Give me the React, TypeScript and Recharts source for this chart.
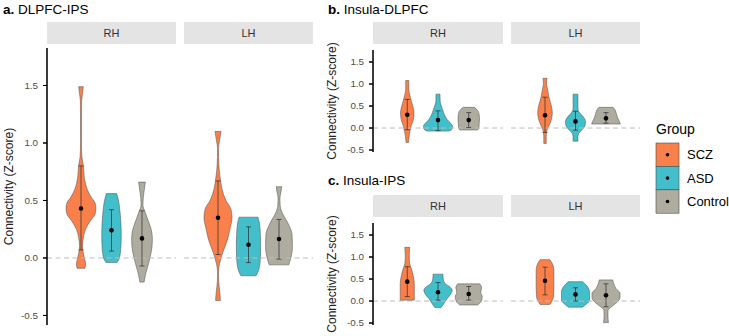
import React from 'react';
import { ComposedChart, Area, Scatter, ErrorBar, XAxis, YAxis, ReferenceLine } from 'recharts';

const groups = ['SCZ', 'ASD', 'Control'];
const hemispheres = ['RH', 'LH'];
const groupColors = ['#f9804b', '#42bfca', '#aeab9f'];
const yTicks = [-0.5, 0, 0.5, 1, 1.5];

// violin outlines: [connectivity, half width in group units]
const dlpfcIpsRhScz = [[-0.09, 0.13], [-0.05, 0.15], [0.0, 0.11], [0.05, 0.07], [0.1, 0.05], [0.18, 0.08], [0.25, 0.15], [0.32, 0.3], [0.38, 0.46], [0.43, 0.49], [0.48, 0.46], [0.53, 0.33], [0.6, 0.2], [0.7, 0.11], [0.8, 0.08], [0.88, 0.03], [1.0, 0.015], [1.2, 0.015], [1.36, 0.02], [1.43, 0.05], [1.49, 0.075]];
const dlpfcIpsRhAsd = [[-0.04, 0.18], [0.0, 0.26], [0.1, 0.31], [0.2, 0.32], [0.3, 0.31], [0.4, 0.28], [0.5, 0.23], [0.56, 0.17]];
const dlpfcIpsRhCtrl = [[-0.21, 0.07], [-0.15, 0.11], [-0.1, 0.16], [0.0, 0.26], [0.1, 0.33], [0.17, 0.34], [0.25, 0.3], [0.32, 0.21], [0.4, 0.1], [0.46, 0.03], [0.52, 0.04], [0.6, 0.08], [0.66, 0.11]];
const dlpfcIpsLhScz = [[-0.37, 0.08], [-0.3, 0.06], [-0.2, 0.02], [-0.12, 0.015], [-0.05, 0.05], [0.0, 0.1], [0.05, 0.16], [0.15, 0.3], [0.25, 0.39], [0.35, 0.46], [0.42, 0.43], [0.5, 0.26], [0.6, 0.13], [0.7, 0.07], [0.8, 0.03], [0.95, 0.015], [1.02, 0.05], [1.1, 0.1]];
const dlpfcIpsLhAsd = [[-0.155, 0.25], [-0.1, 0.34], [0.0, 0.39], [0.1, 0.4], [0.2, 0.39], [0.3, 0.36], [0.355, 0.31]];
const dlpfcIpsLhCtrl = [[-0.06, 0.32], [0.0, 0.39], [0.1, 0.44], [0.2, 0.43], [0.3, 0.3], [0.38, 0.13], [0.45, 0.04], [0.52, 0.03], [0.58, 0.07], [0.62, 0.09]];

const insDlpfcRhScz = [[-0.33, 0.04], [-0.25, 0.05], [-0.1, 0.08], [0.05, 0.13], [0.2, 0.2], [0.35, 0.22], [0.5, 0.18], [0.7, 0.1], [0.9, 0.05], [1.08, 0.05]];
const insDlpfcRhAsd = [[-0.07, 0.36], [-0.02, 0.46], [0.05, 0.47], [0.1, 0.42], [0.2, 0.29], [0.3, 0.21], [0.4, 0.16], [0.5, 0.11], [0.6, 0.07], [0.77, 0.065]];
const insDlpfcRhCtrl = [[-0.045, 0.29], [0.0, 0.33], [0.1, 0.34], [0.2, 0.35], [0.3, 0.34], [0.4, 0.29], [0.47, 0.18]];
const insDlpfcLhScz = [[-0.35, 0.04], [-0.2, 0.04], [-0.05, 0.065], [0.05, 0.13], [0.2, 0.21], [0.35, 0.24], [0.5, 0.21], [0.7, 0.13], [0.9, 0.08], [1.0, 0.05], [1.13, 0.065]];
const insDlpfcLhAsd = [[-0.3, 0.08], [-0.2, 0.08], [-0.12, 0.11], [-0.05, 0.2], [0.05, 0.31], [0.15, 0.33], [0.25, 0.26], [0.35, 0.13], [0.45, 0.08], [0.6, 0.08], [0.77, 0.08]];
const insDlpfcLhCtrl = [[0.09, 0.47], [0.15, 0.44], [0.25, 0.37], [0.35, 0.33], [0.42, 0.29], [0.47, 0.23]];

const insIpsRhScz = [[0.02, 0.23], [0.1, 0.23], [0.25, 0.23], [0.4, 0.23], [0.55, 0.2], [0.7, 0.15], [0.85, 0.08], [1.0, 0.065], [1.12, 0.07], [1.22, 0.08]];
const insIpsRhAsd = [[-0.15, 0.1], [-0.05, 0.2], [0.05, 0.29], [0.15, 0.41], [0.25, 0.46], [0.32, 0.39], [0.4, 0.23], [0.5, 0.17], [0.61, 0.16]];
const insIpsRhCtrl = [[-0.09, 0.29], [0.0, 0.41], [0.1, 0.44], [0.2, 0.39], [0.3, 0.42], [0.39, 0.36]];
const insIpsLhScz = [[-0.08, 0.16], [0.0, 0.23], [0.1, 0.28], [0.3, 0.29], [0.5, 0.29], [0.7, 0.29], [0.85, 0.24], [0.94, 0.16]];
const insIpsLhAsd = [[-0.14, 0.23], [-0.07, 0.36], [0.02, 0.46], [0.2, 0.46], [0.33, 0.39], [0.44, 0.24]];
const insIpsLhCtrl = [[-0.49, 0.08], [-0.35, 0.065], [-0.22, 0.065], [-0.12, 0.2], [-0.03, 0.36], [0.08, 0.46], [0.18, 0.46], [0.28, 0.33], [0.38, 0.26], [0.48, 0.22]];

// mean and error bar ends, order SCZ, ASD, Control
const dlpfcIpsRhMean = [0.43, 0.24, 0.17];
const dlpfcIpsRhLow = [0.07, 0.06, -0.07];
const dlpfcIpsRhHigh = [0.8, 0.42, 0.41];
const dlpfcIpsLhMean = [0.35, 0.115, 0.165];
const dlpfcIpsLhLow = [0.03, -0.04, -0.01];
const dlpfcIpsLhHigh = [0.67, 0.27, 0.335];

const insDlpfcRhMean = [0.3, 0.18, 0.18];
const insDlpfcRhLow = [-0.04, -0.06, 0.01];
const insDlpfcRhHigh = [0.65, 0.39, 0.35];
const insDlpfcLhMean = [0.29, 0.15, 0.22];
const insDlpfcLhLow = [-0.1, -0.05, 0.11];
const insDlpfcLhHigh = [0.7, 0.38, 0.35];

const insIpsRhMean = [0.44, 0.2, 0.16];
const insIpsRhLow = [0.1, 0.02, 0.02];
const insIpsRhHigh = [0.78, 0.42, 0.33];
const insIpsLhMean = [0.46, 0.15, 0.13];
const insIpsLhLow = [0.14, 0.0, -0.13];
const insIpsLhHigh = [0.77, 0.3, 0.39];

const font = '"Liberation Sans", Arial, Helvetica, sans-serif';
const outline = '#4a4a4a';
const X_DOMAIN = [-0.115, 4.115];

type Facet = { outlines: number[][][]; mean: number[]; low: number[]; high: number[] };

const panels = [
  {
    letter: 'a.', title: 'DLPFC-IPS', titleX: 3, labelX: 13, titleY: 14, stripTop: 22, plotTop: 48, plotH: 277, domain: [-0.583, 1.826],
    left: 47, widths: [129, 129], gap: 8,
    facets: [
      { outlines: [dlpfcIpsRhScz, dlpfcIpsRhAsd, dlpfcIpsRhCtrl], mean: dlpfcIpsRhMean, low: dlpfcIpsRhLow, high: dlpfcIpsRhHigh },
      { outlines: [dlpfcIpsLhScz, dlpfcIpsLhAsd, dlpfcIpsLhCtrl], mean: dlpfcIpsLhMean, low: dlpfcIpsLhLow, high: dlpfcIpsLhHigh },
    ] as Facet[],
  },
  {
    letter: 'b.', title: 'Insula-DLPFC', titleX: 328, labelX: 336, titleY: 14, stripTop: 22, plotTop: 50, plotH: 102, domain: [-0.545, 1.773],
    left: 373, widths: [130, 129], gap: 8,
    facets: [
      { outlines: [insDlpfcRhScz, insDlpfcRhAsd, insDlpfcRhCtrl], mean: insDlpfcRhMean, low: insDlpfcRhLow, high: insDlpfcRhHigh },
      { outlines: [insDlpfcLhScz, insDlpfcLhAsd, insDlpfcLhCtrl], mean: insDlpfcLhMean, low: insDlpfcLhLow, high: insDlpfcLhHigh },
    ] as Facet[],
  },
  {
    letter: 'c.', title: 'Insula-IPS', titleX: 328, labelX: 336, titleY: 185, stripTop: 195, plotTop: 223, plotH: 102, domain: [-0.545, 1.773],
    left: 373, widths: [130, 129], gap: 8,
    facets: [
      { outlines: [insIpsRhScz, insIpsRhAsd, insIpsRhCtrl], mean: insIpsRhMean, low: insIpsRhLow, high: insIpsRhHigh },
      { outlines: [insIpsLhScz, insIpsLhAsd, insIpsLhCtrl], mean: insIpsLhMean, low: insIpsLhLow, high: insIpsLhHigh },
    ] as Facet[],
  },
];

const AXIS_W = 47;
const STRIP_H = 22;
const BOTTOM = 6;

// tick mark and label drawn together at the position the axis hands over
const YTick = (props: any) => {
  const { x, y, payload } = props;
  return (
    <g>
      <line x1={x + 4} x2={x + 8} y1={y} y2={y} stroke="#000" strokeWidth={1} />
      <text x={x - 1} y={y} dy="0.35em" textAnchor="end" fontSize={9.8} fill="#4d4d4d" fontFamily={font}>
        {Number(payload.value).toFixed(1)}
      </text>
    </g>
  );
};

// one facet: violins + mean/error bars, y axis hidden
const FacetChart = ({ facet, width, height, top, domain }: {
  facet: Facet; width: number; height: number; top: number; domain: number[];
}) => {
  const points = facet.mean.map((m, i) => ({ x: i + 1, y: m, err: [m - facet.low[i], facet.high[i] - m] }));
  return (
    <ComposedChart layout="vertical" width={width} height={height} margin={{ top, right: 0, bottom: BOTTOM, left: 0 }}>
      <XAxis type="number" dataKey="x" domain={X_DOMAIN} allowDataOverflow hide />
      <YAxis type="number" dataKey="y" domain={domain} allowDataOverflow reversed hide width={0} />
      <ReferenceLine y={0} stroke="#bdbdbd" strokeWidth={1} strokeDasharray="5 3.5" />
      {facet.outlines.map((o, i) => (
        <Area
          key={groups[i]}
          data={o.map(([y, w]) => ({ y, span: [i + 1 - w, i + 1 + w] }))}
          dataKey="span"
          type="monotone"
          fill={groupColors[i]}
          fillOpacity={1}
          stroke={outline}
          strokeWidth={0.5}
          dot={false}
          activeDot={false}
          isAnimationActive={false}
        />
      ))}
      {facet.outlines.map((o, i) =>
        [o[0], o[o.length - 1]].map(([y, w], k) => (
          <ReferenceLine
            key={`${groups[i]}-${k}`}
            segment={[{ x: i + 1 - w, y }, { x: i + 1 + w, y }]}
            stroke={outline}
            strokeWidth={0.5}
          />
        ))
      )}
      <Scatter
        data={points}
        isAnimationActive={false}
        shape={(p: any) => <circle cx={p.cx} cy={p.cy} r={2.3} fill="#000" />}
      >
        <ErrorBar dataKey="err" direction="y" width={2.5} stroke="#2b2b2b" strokeWidth={0.7} isAnimationActive={false} />
      </Scatter>
    </ComposedChart>
  );
};

// the shared y axis of a panel, drawn by its own chart laid over the left facet
const AxisChart = ({ width, height, top, domain }: { width: number; height: number; top: number; domain: number[] }) => (
  <ComposedChart
    layout="vertical"
    width={width}
    height={height}
    margin={{ top, right: 0, bottom: BOTTOM, left: 0 }}
    data={yTicks.map((v) => ({ y: v, x: 0 }))}
  >
    <XAxis type="number" dataKey="x" domain={X_DOMAIN} allowDataOverflow hide />
    <YAxis
      type="number"
      dataKey="y"
      domain={domain}
      allowDataOverflow
      reversed
      ticks={yTicks}
      interval={0}
      width={AXIS_W}
      tick={<YTick />}
      axisLine={{ stroke: '#000', strokeWidth: 1 }}
      tickLine={false}
    />
  </ComposedChart>
);

// fallback frame for the axis: same linear mapping as the panel's y domain
const toPx = (p: typeof panels[number], v: number) =>
  p.plotTop + ((p.domain[1] - v) / (p.domain[1] - p.domain[0])) * p.plotH;

export default function App() {
  return (
    <div style={{ position: 'absolute', left: 0, top: 0, width: 729, height: 336, background: '#fff', fontFamily: font }}>
      {panels.map((p) => {
        const top = p.stripTop + STRIP_H;
        const marginTop = p.plotTop - top;
        const height = marginTop + p.plotH + BOTTOM;
        return (
          <React.Fragment key={p.title}>
            {p.facets.map((f, j) => (
              <div key={j} style={{ position: 'absolute', left: j === 0 ? p.left : p.left + p.widths[0] + p.gap, top }}>
                <FacetChart facet={f} width={p.widths[j]} height={height} top={marginTop} domain={p.domain} />
              </div>
            ))}
            <div style={{ position: 'absolute', left: p.left - AXIS_W, top, pointerEvents: 'none' }}>
              <AxisChart width={AXIS_W + p.widths[0]} height={height} top={marginTop} domain={p.domain} />
            </div>
          </React.Fragment>
        );
      })}
      <svg width={729} height={336} style={{ position: 'absolute', left: 0, top: 0, pointerEvents: 'none' }}>
        {panels.map((p) => {
          const x0 = p.left;
          const x1 = p.left + p.widths[0] + p.gap;
          return (
            <g key={p.title}>
              <text x={p.titleX} y={p.titleY} fontSize={13.5} fill="#000">
                <tspan fontWeight="bold">{p.letter}</tspan>
                {' '}{p.title}
              </text>
              {hemispheres.map((h, j) => (
                <g key={h}>
                  <rect x={j === 0 ? x0 : x1} y={p.stripTop} width={p.widths[j]} height={STRIP_H} fill="#e4e4e4" />
                  <text
                    x={(j === 0 ? x0 : x1) + p.widths[j] / 2}
                    y={p.stripTop + STRIP_H / 2}
                    fontSize={11}
                    fill="#333"
                    textAnchor="middle"
                    dominantBaseline="central"
                  >
                    {h}
                  </text>
                </g>
              ))}
              <text
                transform={`translate(${p.labelX}, ${p.plotTop + p.plotH / 2}) rotate(-90)`}
                fontSize={12}
                fill="#222"
                textAnchor="middle"
              >
                Connectivity (Z-score)
              </text>
              <line x1={p.left} x2={p.left} y1={p.plotTop} y2={p.plotTop + p.plotH} stroke="#000" strokeWidth={1.1} />
              {yTicks.map((v) => (
                <line key={v} x1={p.left - 4} x2={p.left} y1={toPx(p, v)} y2={toPx(p, v)} stroke="#000" strokeWidth={1} />
              ))}
            </g>
          );
        })}
        <text x={656} y={134} fontSize={14} fill="#000">Group</text>
        {groups.map((g, i) => (
          <g key={g}>
            <rect x={656} y={143 + i * 23.4} width={23} height={23.4} fill={groupColors[i]} stroke={outline} strokeWidth={0.6} />
            <circle cx={667.5} cy={143 + i * 23.4 + 11.7} r={1.8} fill="#000" />
            <text x={687} y={143 + i * 23.4 + 11.7} fontSize={13} fill="#000" dominantBaseline="central">{g}</text>
          </g>
        ))}
      </svg>
    </div>
  );
}
